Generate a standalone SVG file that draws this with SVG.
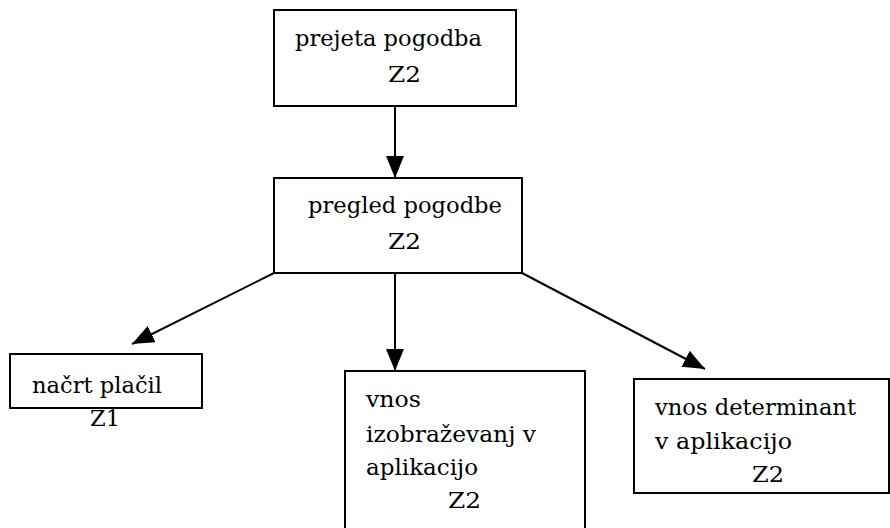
<svg xmlns="http://www.w3.org/2000/svg" width="890" height="528" viewBox="0 0 890 528">
<defs>
<style>
.box{fill:#fff;stroke:#000;stroke-width:2}
.t{font-family:'DejaVu Serif','Liberation Serif',serif;font-size:23px;fill:#000}
.c{stroke:#000;stroke-width:2;fill:none}
</style>
<marker id="ah" markerUnits="userSpaceOnUse" markerWidth="24" markerHeight="20" refX="22" refY="9" orient="auto">
<path d="M0,0 L22,9 L0,18 Z" fill="#000"/>
</marker>
</defs>
<rect width="890" height="528" fill="#fff"/>
<g id="n1">
<rect class="box" x="274" y="10" width="242" height="96"/>
<text class="t" x="295" y="46" textLength="187" lengthAdjust="spacingAndGlyphs">prejeta pogodba</text>
<text class="t" x="388" y="82" textLength="33" lengthAdjust="spacingAndGlyphs">Z2</text>
</g>
<g id="n2">
<rect class="box" x="274" y="178" width="248" height="95"/>
<text class="t" x="308" y="213" textLength="194" lengthAdjust="spacingAndGlyphs">pregled pogodbe</text>
<text class="t" x="388" y="249" textLength="33" lengthAdjust="spacingAndGlyphs">Z2</text>
</g>
<g id="n3">
<rect class="box" x="10" y="354" width="192" height="54"/>
<text class="t" x="32" y="393" textLength="130" lengthAdjust="spacingAndGlyphs">načrt plačil</text>
<text class="t" x="90" y="426" textLength="30" lengthAdjust="spacingAndGlyphs">Z1</text>
</g>
<g id="n4">
<rect class="box" x="345" y="371" width="240" height="170"/>
<text class="t" x="366" y="407" textLength="55" lengthAdjust="spacingAndGlyphs">vnos</text>
<text class="t" x="366" y="442" textLength="170" lengthAdjust="spacingAndGlyphs">izobraževanj v</text>
<text class="t" x="366" y="475" textLength="112" lengthAdjust="spacingAndGlyphs">aplikacijo</text>
<text class="t" x="448" y="508" textLength="33" lengthAdjust="spacingAndGlyphs">Z2</text>
</g>
<g id="n5">
<rect class="box" x="634" y="379" width="255" height="114"/>
<text class="t" x="655" y="415" textLength="201" lengthAdjust="spacingAndGlyphs">vnos determinant</text>
<text class="t" x="655" y="449" textLength="137" lengthAdjust="spacingAndGlyphs">v aplikacijo</text>
<text class="t" x="752" y="482" textLength="32" lengthAdjust="spacingAndGlyphs">Z2</text>
</g>
<g id="connectors">
<line class="c" x1="395" y1="106" x2="395" y2="178" marker-end="url(#ah)"/>
<line class="c" x1="274" y1="273" x2="132" y2="344" marker-end="url(#ah)"/>
<line class="c" x1="395" y1="273" x2="395" y2="371" marker-end="url(#ah)"/>
<line class="c" x1="522" y1="273" x2="705" y2="369" marker-end="url(#ah)"/>
</g>
</svg>
